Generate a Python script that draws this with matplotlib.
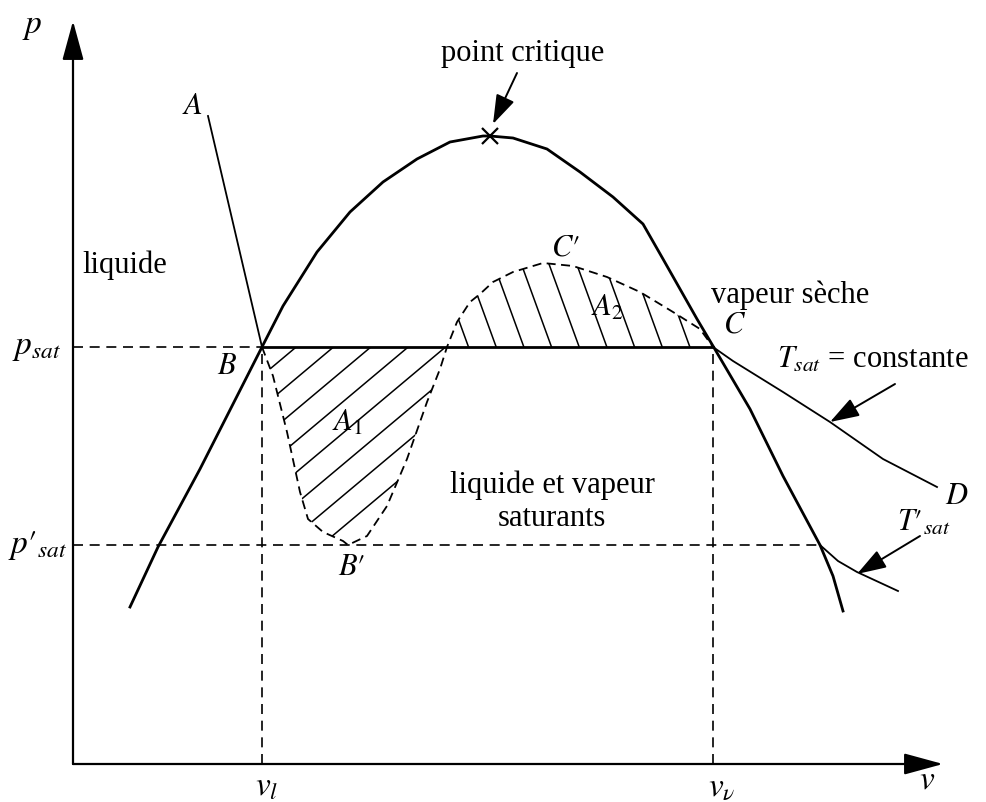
import numpy as np
import matplotlib.pyplot as plt
from matplotlib.patches import Polygon

plt.rcParams['font.family'] = ['Liberation Serif', 'DejaVu Serif']
plt.rcParams['mathtext.fontset'] = 'stix'

# Courbe de saturation (cloche)
dome_v = [57, 85, 127, 189, 210, 244, 277, 310, 344, 377, 410, 417, 440,
          474, 507, 540, 570, 590, 607, 624, 640, 677, 710, 747, 760, 770]
dome_p = [157, 217, 295, 417, 458, 512, 552, 582, 605, 622, 628, 628, 626,
          615, 592, 567, 540, 505, 475, 445, 418, 355, 288, 219, 188, 153]

# Point critique
v_crit, p_crit = 417, 628

# Paliers et volumes
p_sat = 417
p_sat2 = 219
v_l = 189
v_v = 640
v_sat2 = 747

# Isotherme T_sat : branche liquide A-B et branche vapeur C-D
iso_AB_v = [135, 189]
iso_AB_p = [648, 417]
iso_CD_v = [640, 660, 710, 757, 810, 864]
iso_CD_p = [417, 403, 372, 342, 305, 277]

# Isotherme T'_sat
iso2_v = [747, 765, 784, 825]
iso2_p = [219, 203, 192, 173]

# Isotherme de Van der Waals (B -> B' -> C' -> C)
vdw_v = [189, 200, 214, 227, 235, 250, 270, 275, 294, 314, 334, 354, 367,
         374, 384, 397, 407, 420, 440, 470, 500, 534, 567, 600, 627, 640]
vdw_p = [417, 388, 332, 272, 245, 232, 223, 219, 228, 258, 305, 362, 395,
         417, 442, 462, 470, 482, 492, 501, 498, 487, 472, 452, 435, 417]
i_mid = 13  # croisement avec le palier

fig = plt.figure(figsize=(9.87, 8.03), dpi=100)
ax = fig.add_axes([0, 0, 1, 1])
ax.set_xlim(-73, 914)
ax.set_ylim(-38, 765)
ax.axis('off')

# Axes p et v
arrow = dict(arrowstyle='-|>,head_length=1.1,head_width=0.3', color='k',
             lw=1.6, mutation_scale=22, shrinkA=0, shrinkB=0)
ax.annotate('', xy=(0, 743), xytext=(0, 0), arrowprops=arrow)
ax.annotate('', xy=(870, 0), xytext=(0, 0), arrowprops=arrow)
ax.text(-41, 738, '$p$', fontsize=24, ha='center', va='center')
ax.text(854, -15, '$v$', fontsize=24, ha='center', va='center')

# Traits de rappel
dash = dict(color='k', lw=1.2, ls=(0, (6, 4)))
ax.plot([0, v_l], [p_sat, p_sat], **dash)
ax.plot([0, v_sat2], [p_sat2, p_sat2], **dash)
ax.plot([v_l, v_l], [0, p_sat], **dash)
ax.plot([v_v, v_v], [0, p_sat], **dash)

# Cloche, palier et isothermes
ax.plot(dome_v, dome_p, color='k', lw=2.0, solid_joinstyle='round')
ax.plot([v_l, v_v], [p_sat, p_sat], color='k', lw=2.0)
ax.plot(iso_AB_v, iso_AB_p, color='k', lw=1.3)
ax.plot(iso_CD_v, iso_CD_p, color='k', lw=1.3, solid_joinstyle='round')
ax.plot(iso2_v, iso2_p, color='k', lw=1.3, solid_joinstyle='round')
ax.plot(vdw_v, vdw_p, color='k', lw=1.3, ls=(0, (5, 3)))
ax.plot(v_crit, p_crit, marker='x', color='k', ms=11, mew=1.6)


# Hachures des aires A1 et A2, découpées par le contour de chaque lobe
def hatch(vs, ps, angle, step):
    poly = Polygon(np.column_stack([vs, ps]), closed=True,
                   facecolor='none', edgecolor='none')
    ax.add_patch(poly)
    d = np.array([np.cos(np.radians(angle)), np.sin(np.radians(angle))])
    n = np.array([-d[1], d[0]])
    c = np.array([np.mean(vs), np.mean(ps)])
    for k in np.arange(-20, 21):
        p0 = c + k * step * n
        seg = np.array([p0 - 400 * d, p0 + 400 * d])
        line, = ax.plot(seg[:, 0], seg[:, 1], color='k', lw=1.1)
        line.set_clip_path(poly)


hatch(vdw_v[:i_mid + 1], vdw_p[:i_mid + 1], 40, 24)
hatch(vdw_v[i_mid:], vdw_p[i_mid:], -70, 26)

small_arrow = dict(arrowstyle='-|>,head_length=0.9,head_width=0.3',
                   color='k', lw=1.4, mutation_scale=20, shrinkA=0, shrinkB=0)

# Point critique
ax.text(450, 712, 'point critique', fontsize=22, ha='center', va='center')
ax.annotate('', xy=(420, 640), xytext=(444, 691), arrowprops=small_arrow)

# Étiquettes des axes
ax.text(-36, p_sat, '$p_{sat}$', fontsize=24, ha='center', va='center')
ax.text(-35, p_sat2, '$p\u2032_{sat}$', fontsize=24, ha='center',
        va='center')
ax.text(194, -22, '$v_l$', fontsize=24, ha='center', va='center')
ax.text(649, -22, r'$v_\nu$', fontsize=24, ha='center', va='center')

# Points et aires
ax.text(119, 658, '$A$', fontsize=22, ha='center', va='center')
ax.text(154, 398, '$B$', fontsize=22, ha='center', va='center')
ax.text(279, 197, '$B\u2032$', fontsize=22, ha='center', va='center')
ax.text(662, 440, '$C$', fontsize=22, ha='center', va='center')
ax.text(492, 517, '$C\u2032$', fontsize=22, ha='center', va='center')
ax.text(884, 268, '$D$', fontsize=22, ha='center', va='center')
ax.text(274, 342, '$A_1$', fontsize=22, ha='center', va='center')
ax.text(534, 457, '$A_2$', fontsize=22, ha='center', va='center')

# Domaines
ax.text(52, 500, 'liquide', fontsize=22, ha='center', va='center')
ax.text(717, 470, 'vapeur sèche', fontsize=22, ha='center', va='center')
ax.text(479, 280, 'liquide et vapeur', fontsize=22, ha='center',
        va='center')
ax.text(479, 247, 'saturants', fontsize=22, ha='center', va='center')

# Isothermes
ax.text(704, 405, '$T_{sat}$ = constante', fontsize=22, ha='left',
        va='center')
ax.annotate('', xy=(757, 342), xytext=(822, 380), arrowprops=small_arrow)
ax.text(824, 242, '$T\u2032_{sat}$', fontsize=22, ha='left', va='center')
ax.annotate('', xy=(784, 190), xytext=(847, 228), arrowprops=small_arrow)

fig.savefig('out.png', dpi=100)
